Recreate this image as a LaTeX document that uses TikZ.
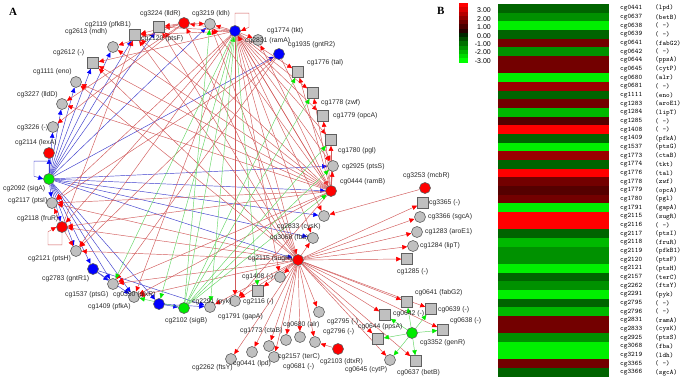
\documentclass[tikz,border=0pt]{standalone}
\usepackage{fontspec}
\setmainfont{Liberation Sans}
\newfontfamily\tnr{Liberation Serif}
\usetikzlibrary{arrows.meta}
\pgfdeclarelayer{back}
\pgfdeclarelayer{bg}
\pgfsetlayers{back,bg,main}
\definecolor{ered}{RGB}{210,90,90}
\definecolor{eblue}{RGB}{60,60,205}
\definecolor{egreen}{RGB}{100,215,100}
\definecolor{ngray}{RGB}{192,192,192}
\definecolor{nborder}{RGB}{95,95,95}
\definecolor{ngreen}{RGB}{0,235,0}
\definecolor{labc}{RGB}{40,40,40}
\definecolor{DG}{RGB}{0,100,0}
\definecolor{MG}{RGB}{0,145,0}
\definecolor{LG}{RGB}{0,185,0}
\definecolor{BG}{RGB}{0,240,0}
\definecolor{VR}{RGB}{85,0,0}
\definecolor{DR}{RGB}{115,0,0}
\definecolor{MR}{RGB}{155,0,0}
\definecolor{BR}{RGB}{255,0,0}
\tikzset{
 gnode/.style={circle,fill=ngray,draw=nborder,line width=0.6pt,minimum size=11pt,inner sep=0pt},
 rnode/.style={gnode,fill=red},
 bnode/.style={gnode,fill=blue},
 gnnode/.style={gnode,fill=ngreen},
 snode/.style={rectangle,fill=ngray,draw=nborder,line width=0.6pt,minimum size=11pt,inner sep=0pt},
 lab/.style={anchor=west,font=\fontsize{6.8}{7}\selectfont,text=labc,inner sep=0pt},
 hl/.style={anchor=west,font=\ttfamily\fontsize{6.9}{7}\selectfont,text=black,inner sep=0pt},
 re/.style={draw=ered,line width=0.45pt,-{Triangle[length=5pt,width=4.5pt,color=red]}},
 be/.style={draw=eblue,line width=0.45pt,-{Triangle[length=5pt,width=4.5pt,color=blue]}},
 ge/.style={draw=egreen,line width=0.45pt,-{Triangle[length=5pt,width=4.5pt,color=ngreen]}},
}
\begin{document}
\begin{tikzpicture}[x=1pt,y=-1pt]
\begin{pgfonlayer}{back}
\fill[white] (0,0) rectangle (685,381);
\end{pgfonlayer}
\useasboundingbox (0,0) rectangle (685,381);
% ---- panel A nodes (circle layout)
\node[gnnode] (sigA) at (49,179) {};
\node[rnode] (lexA) at (49,153) {};
\node[gnode] (c3226) at (53,127) {};
\node[gnode] (lldD) at (62,104) {};
\node[gnode] (eno) at (76,82) {};
\node[snode] (c2612) at (93,63) {};
\node[gnode] (mdh) at (113,47) {};
\node[snode] (pfkB) at (135,35) {};
\node[snode] (ptsF) at (159,27) {};
\node[rnode] (lldR) at (184,23) {};
\node[gnode] (ldh) at (210,24) {};
\node[bnode] (ramA) at (235,31) {};
\node[gnode] (tkt) at (258,40) {};
\node[bnode] (gntRb) at (279,54) {};
\node[snode] (tal) at (298,72) {};
\node[snode] (zwf) at (313,93) {};
\node[snode] (opcA) at (323,116) {};
\node[snode] (pgl) at (331,140) {};
\node[gnode] (ptsS) at (333,166) {};
\node[rnode] (ramB) at (331,191) {};
\node[gnode] (cysK) at (324,216) {};
\node[gnode] (fba) at (313,238) {};
\node[rnode] (sugR) at (298,260) {};
\node[gnode] (c1408) at (280,277) {};
\node[snode] (c2116) at (258,291) {};
\node[gnode] (gapA) at (235,301) {};
\node[gnode] (pyk) at (210,307) {};
\node[gnnode] (sigB) at (184,308) {};
\node[bnode] (glxR) at (159,304) {};
\node[gnode] (pfkA) at (134,297) {};
\node[gnode] (ptsG) at (113,284) {};
\node[bnode] (gntRa) at (93,269) {};
\node[gnode] (ptsH) at (76,251) {};
\node[rnode] (fruR) at (62,227) {};
\node[gnode] (ptsI) at (52,203) {};
% ---- outer nodes
\node[rnode] (mcbR) at (425,188) {};
\node[snode] (c3365) at (423,203) {};
\node[gnode] (sgcA) at (420,217) {};
\node[gnode] (aroE) at (417,232) {};
\node[gnode] (lipT) at (413,246) {};
\node[snode] (c1285) at (407,259) {};
\node[snode] (fabG) at (407,302) {};
\node[snode] (c0639) at (431,309) {};
\node[snode] (c0642) at (385,315) {};
\node[snode] (c0638) at (443,330) {};
\node[snode] (ppsA) at (378,339) {};
\node[gnnode] (genR) at (412,333) {};
\node[gnode] (cytP) at (390,360) {};
\node[snode] (betB) at (416,361) {};
\node[gnode] (c2795) at (319,312) {};
\node[gnode] (c2796) at (315,342) {};
\node[rnode] (dtxR) at (338,349) {};
\node[gnode] (alr) at (300,337) {};
\node[gnode] (c0681) at (286,340) {};
\node[gnode] (ctaB) at (269,346) {};
\node[gnode] (terC) at (274,357) {};
\node[gnode] (lpd) at (252,352) {};
\node[gnode] (ftsY) at (231,359) {};
% ---- labels
\node[lab] (l1) at (3,189) {cg2092 (sigA)};
\node[lab] (l2) at (15,143) {cg2114 (lexA)};
\node[lab] (l3) at (17,128) {cg3226 (-)};
\node[lab] (l4) at (17,95) {cg3227 (lldD)};
\node[lab] (l5) at (33,72) {cg1111 (eno)};
\node[lab] (l6) at (53,53) {cg2612 (-)};
\node[lab] (l7) at (65,32) {cg2613 (mdh)};
\node[lab] (l8) at (85,25) {cg2119 (pfkB1)};
\node[lab] (l9) at (141,39) {cg2120 (ptsF)};
\node[lab] (l10) at (140,14) {cg3224 (lldR)};
\node[lab] (l11) at (192,14) {cg3219 (ldh)};
\node[lab] (l12) at (245,41) {cg2831 (ramA)};
\node[lab] (l13) at (267,31) {cg1774 (tkt)};
\node[lab] (l14) at (288,45) {cg1935 (gntR2)};
\node[lab] (l15) at (307,63) {cg1776 (tal)};
\node[lab] (l16) at (321,103) {cg1778 (zwf)};
\node[lab] (l17) at (333,116) {cg1779 (opcA)};
\node[lab] (l18) at (338,151) {cg1780 (pgl)};
\node[lab] (l19) at (342,167) {cg2925 (ptsS)};
\node[lab] (l20) at (340,182) {cg0444 (ramB)};
\node[lab] (l21) at (277,227) {cg2833 (cysK)};
\node[lab] (l22) at (270,238) {cg3068 (fba)};
\node[lab] (l23) at (248,259) {cg2115 (sugR)};
\node[lab] (l24) at (242,277) {cg1408 (-)};
\node[lab] (l25) at (243,302) {cg2116 (-)};
\node[lab] (l26) at (218,317) {cg1791 (gapA)};
\node[lab] (l27) at (192,302) {cg2291 (pyk)};
\node[lab] (l28) at (165,321) {cg2102 (sigB)};
\node[lab] (l29) at (113,295) {cg0350 (glxR)};
\node[lab] (l30) at (88,307) {cg1409 (pfkA)};
\node[lab] (l31) at (65,295) {cg1537 (ptsG)};
\node[lab] (l32) at (42,279) {cg2783 (gntR1)};
\node[lab] (l33) at (28,259) {cg2121 (ptsH)};
\node[lab] (l34) at (17,219) {cg2118 (fruR)};
\node[lab] (l35) at (8,201) {cg2117 (ptsI)};
\node[lab] (l36) at (403,176) {cg3253 (mcbR)};
\node[lab] (l37) at (429,203) {cg3365 (-)};
\node[lab] (l38) at (428,217) {cg3366 (sgcA)};
\node[lab] (l39) at (425,232) {cg1283 (aroE1)};
\node[lab] (l40) at (420,246) {cg1284 (lipT)};
\node[lab] (l41) at (397,272) {cg1285 (-)};
\node[lab] (l42) at (415,293) {cg0641 (fabG2)};
\node[lab] (l43) at (438,310) {cg0639 (-)};
\node[lab] (l44) at (393,314) {cg0642 (-)};
\node[lab] (l45) at (450,321) {cg0638 (-)};
\node[lab] (l46) at (358,327) {cg0644 (ppsA)};
\node[lab] (l47) at (420,343) {cg3352 (genR)};
\node[lab] (l48) at (345,370) {cg0645 (cytP)};
\node[lab] (l49) at (397,373) {cg0637 (betB)};
\node[lab] (l50) at (327,322) {cg2795 (-)};
\node[lab] (l51) at (323,332) {cg2796 (-)};
\node[lab] (l52) at (320,362) {cg2103 (dtxR)};
\node[lab] (l53) at (283,325) {cg0680 (alr)};
\node[lab] (l54) at (240,331) {cg1773 (ctaB)};
\node[lab] (l55) at (278,357) {cg2157 (terC)};
\node[lab] (l56) at (283,367) {cg0681 (-)};
\node[lab] (l57) at (233,364) {cg0441 (lpd)};
\node[lab] (l58) at (192,368) {cg2262 (ftsY)};
\node[anchor=west,inner sep=0pt,font=\tnr\bfseries\fontsize{11}{12}\selectfont] (pA) at (9,12) {A};
% ---- edges
\begin{pgfonlayer}{bg}
\foreach \t in {lexA,c3226,lldD,eno,c2612,mdh,pfkB,ptsF,ldh,gntRb,ptsS,ramB,fba,cysK,sugR,ptsI,fruR,ptsH,gntRa,ptsG,pfkA,glxR}
  \draw[be] (sigA) -- (\t);
\foreach \t in {ptsG,pfkA,pyk} \draw[be] (gntRa) -- (\t);
\foreach \t in {sigB,pyk} \draw[be] (glxR) -- (\t);
\foreach \t in {tkt,tal,zwf,opcA,pgl,ptsS,ramB,cysK,fba,sugR,c1408,gapA,pfkA,ptsH,fruR,ptsI,ldh,lldR,ptsF,pfkB,c2612}
  \draw[re] (ramA) -- (\t);
\foreach \t in {tkt,tal,zwf,opcA,pgl,ptsS,ramA,ldh,pfkB,ptsF,mdh,c2612,eno,lldD,gapA,ptsG,ptsI,pfkA,fruR}
  \draw[re] (ramB) -- (\t);
\foreach \t in {ptsF,pfkB,ptsI,fruR,ptsH,ptsG,pfkA,c1408,c2116,gapA,pyk,ldh,c2612,eno,fba,lldR,
  c1285,lipT,aroE,sgcA,c3365,fabG,c0639,c0642,c0638,ppsA,cytP,betB,c2795,c2796,alr,ctaB,terC,c0681,lpd,ftsY}
  \draw[re] (sugR) -- (\t);
\foreach \t in {ptsF,pfkB,mdh,lldD,c3226,ldh} \draw[re] (lldR) -- (\t);
\foreach \t in {ptsI,ptsH,pfkB} \draw[re] (fruR) -- (\t);
\foreach \t in {ptsG,ptsI,ptsH,ptsS} \draw[re] (gntRb) -- (\t);
\draw[re] (mcbR) -- (cysK);
\draw[re] (dtxR) -- (c2796);
\foreach \t in {fabG,c0639,c0642,c0638,ppsA,cytP,betB} \draw[ge] (genR) -- (\t);
\foreach \t in {ldh,ramA,ptsS,ramB,pfkA,tal,zwf,pgl} \draw[ge] (sigB) -- (\t);
\foreach \t in {c2116,pyk,ptsG,glxR} \draw[ge] (ramA) -- (\t);
% self loops
\draw[re] (ramA.north) -- ++(0,-12) -| ++(14,14) -- (ramA.east);
\draw[be] (sigA.north) -- ++(0,-12) -| ++(-15,15) -- (sigA.west);
\draw[re] (fruR.south) -- ++(0,12) -| ++(-14,-13) -- (fruR.west);
\end{pgfonlayer}
% ---- panel B
\node[anchor=west,inner sep=0pt,font=\tnr\bfseries\fontsize{11}{12}\selectfont] (pB) at (437,11) {B};
\foreach \k in {0,...,13}{
  \pgfmathtruncatemacro{\rr}{\k<7 ? 255-36*\k : 0}
  \pgfmathtruncatemacro{\gg}{\k<7 ? 0 : 36*(\k-7)+39}
  \definecolor{lc}{RGB}{\rr,\gg,0}
  \fill[lc] (459,{3+4.25*\k}) rectangle (468,{3+4.25*(\k+1)});
}
\foreach \v [count=\i from 0] in {3.00,2.00,1.00,0.00,-1.00,-2.00,-3.00}
  \node[anchor=east,inner sep=0pt,font=\fontsize{7}{8}\selectfont] (lg\i) at (491,{10.5+8.4*\i}) {\v};
\foreach \c/\g/\n [count=\i from 0] in {
 DG/cg0441/(lpd), MG/cg0637/(betB), BG/cg0638/( -), DG/cg0639/( -), DR/cg0641/(fabG2),
 MG/cg0642/( -), DR/cg0644/(ppsA), DR/cg0645/(cytP), BG/cg0680/(alr), MR/cg0681/( -),
 DG/cg1111/(eno), DR/cg1283/(aroE1), LG/cg1284/(lipT), VR/cg1285/( -), BR/cg1408/( -),
 DG/cg1409/(pfkA), BG/cg1537/(ptsG), MR/cg1773/(ctaB), DG/cg1774/(tkt), BR/cg1776/(tal),
 DR/cg1778/(zwf), VR/cg1779/(opcA), DR/cg1780/(pgl), BG/cg1791/(gapA), BR/cg2115/(sugR),
 BR/cg2116/( -), DG/cg2117/(ptsI), LG/cg2118/(fruR), MG/cg2119/(pfkB1), MG/cg2120/(ptsF),
 BG/cg2121/(ptsH), DG/cg2157/(terC), MG/cg2262/(ftsY), BG/cg2291/(pyk), DG/cg2795/( -),
 LG/cg2796/( -), DR/cg2831/(ramA), DR/cg2833/(cysK), MG/cg2925/(ptsS), BG/cg3068/(fba),
 BG/cg3219/(ldh), DR/cg3365/( -), DG/cg3366/(sgcA)}
{
  \fill[\c] (498,{4+8.67*\i}) rectangle (609,{4+8.67*(\i+1)});
  \node[hl] (g\i) at (620,{8.33+8.67*\i}) {\g};
  \node[hl] (n\i) at (655,{8.33+8.67*\i}) {\n};
}
\end{tikzpicture}
\end{document}
